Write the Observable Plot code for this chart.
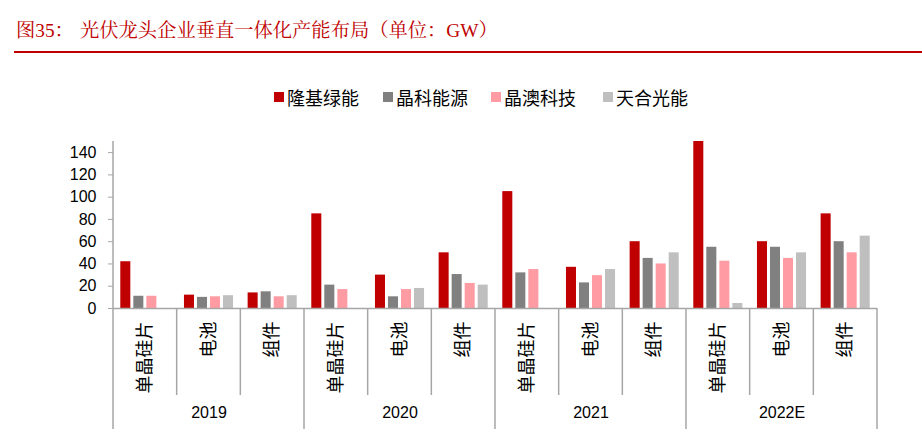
<!DOCTYPE html>
<html><head><meta charset="utf-8">
<script src="https://cdn.jsdelivr.net/npm/d3@7"></script>
<script src="https://cdn.jsdelivr.net/npm/@observablehq/plot@0.6"></script>
<style>
html,body{margin:0;padding:0;background:#fff;}
body{width:922px;height:447px;overflow:hidden;position:relative;}
.title{position:absolute;top:18px;font-family:"Liberation Serif","Noto Serif CJK SC","Noto Sans CJK SC",serif;font-size:19.3px;color:#C00000;line-height:26px;white-space:nowrap;}
.rule{position:absolute;left:14px;right:0;top:51px;height:2px;background:#C00000;}
.leg{position:absolute;top:86px;height:22px;display:flex;align-items:center;font-family:"Noto Sans CJK SC",sans-serif;font-size:18px;color:#000;white-space:nowrap;}
.leg i{display:inline-block;width:10px;height:10px;margin-right:3px;}
#chart{position:absolute;left:0;top:110px;}
</style></head><body>
<div class="title" style="left:16px">图35：</div>
<div class="title" style="left:80px">光伏龙头企业垂直一体化产能布局（单位：GW）</div>
<div class="rule"></div>
<div id="legend"></div>
<div id="chart"></div>
<script>
const years = ["2019", "2020", "2021", "2022E"];
const categories = ["单晶硅片", "电池", "组件"];
const series = ["隆基绿能", "晶科能源", "晶澳科技", "天合光能"];
const colors = ["#C00000", "#808080", "#FF9BA3", "#BFBFBF"];
// values in order: 2019 单晶硅片, 电池, 组件, 2020 ..., 2021 ..., 2022E ...
const longi = [42, 12, 14, 85, 30, 50, 105, 37, 60, 150, 60, 85];
const jinko = [11, 10, 15, 21, 10.5, 30.5, 32, 23, 45, 55, 55, 60];
const jaSolar = [11, 10.5, 10.5, 17, 17, 22.5, 35, 29.5, 40, 42.5, 45, 50];
const trina = [null, 11.5, 11.5, null, 18, 21, null, 35, 50, 4.5, 50, 65];
const yTicks = [0, 20, 40, 60, 80, 100, 120, 140];
const legendLeft = [274, 383, 491, 603];

const keys = [];
years.forEach(y => categories.forEach(c => keys.push(`${y}|${c}`)));
const valueSets = [longi, jinko, jaSolar, trina];
const rows = [];
keys.forEach((k, i) => series.forEach((s, j) => {
  const v = valueSets[j][i];
  if (v != null) rows.push({key: k, series: s, value: v});
}));

// legend
const leg = document.getElementById("legend");
series.forEach((s, i) => {
  const d = document.createElement("div");
  d.className = "leg";
  d.style.left = legendLeft[i] + "px";
  d.innerHTML = `<i style="background:${colors[i]}"></i><span>${s}</span>`;
  leg.appendChild(d);
});

const chart = Plot.plot({
  width: 922, height: 337,
  marginTop: 31, marginBottom: 139, marginLeft: 113, marginRight: 45,
  style: {fontFamily: "'Liberation Sans','Noto Sans CJK SC',sans-serif", background: "transparent", overflow: "visible", color: "#000"},
  fx: {domain: keys, padding: 0, round: false},
  x: {domain: series, paddingInner: 0.23, paddingOuter: 0.56, round: false, axis: null},
  y: {domain: [0, 150]},
  color: {domain: series, range: colors},
  marks: [
    Plot.barY(rows, {fx: "key", x: "series", y: "value", fill: "series"}),
    Plot.ruleY([0], {stroke: "#A6A6A6", strokeWidth: 1.5}),
    Plot.axisY({ticks: yTicks, tickSize: 5, tickPadding: 12, fontSize: 16, stroke: "#A6A6A6", fill: "#000", label: null}),
    Plot.axisFx({anchor: "bottom", tickSize: 0, tickPadding: 13, tickRotate: -90, fontSize: 18, tickFormat: k => k.split("|")[1], label: null, fill: "#000"}),
    Plot.text(years, {fx: d => `${d}|${categories[1]}`, text: d => d, frameAnchor: "bottom", dy: 109, fontSize: 16, fill: "#000"})
  ]
});
document.getElementById("chart").appendChild(chart);

// category / year separators from the fx scale
const fxS = chart.scale("fx");
const yS = chart.scale("y");
const bw = fxS.bandwidth;
const fxPos = k => fxS.apply ? fxS.apply(k) : fxS.range[0] + keys.indexOf(k) * fxS.step;
const y0 = yS.apply(0);
const yTop = yS.apply(150);
const g = d3.select(chart).append("g").attr("stroke", "#A6A6A6").attr("stroke-width", 1.5);
const edges = keys.map(k => fxPos(k)).concat([fxPos(keys[keys.length - 1]) + bw]);
edges.forEach((x, i) => {
  const isYear = i % categories.length === 0;
  g.append("line").attr("x1", x).attr("x2", x)
    .attr("y1", i === 0 ? yTop : y0)
    .attr("y2", y0 + (isYear ? 121 : 87));
});
</script>
</body></html>
